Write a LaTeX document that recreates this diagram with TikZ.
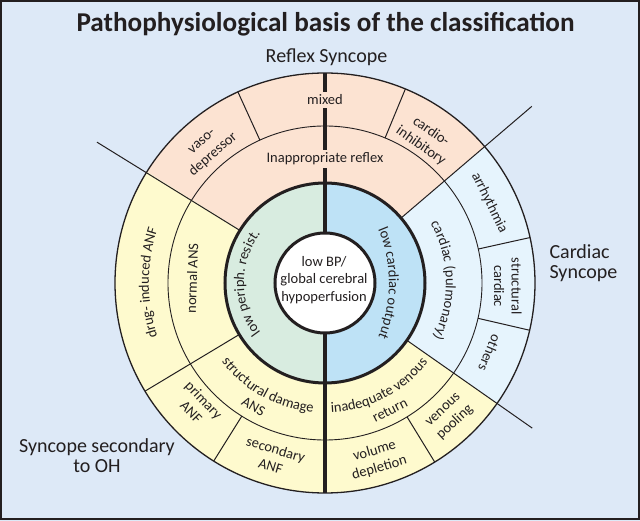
\documentclass[tikz,border=0pt]{standalone}
\usepackage{fontspec}
\setmainfont{Carlito}
\usetikzlibrary{decorations.text}

\definecolor{bgblue}{RGB}{221,233,247}
\definecolor{reflexpink}{RGB}{252,227,210}
\definecolor{ohyellow}{RGB}{254,250,206}
\definecolor{cardblue}{RGB}{230,244,253}
\definecolor{periphgreen}{RGB}{216,236,224}
\definecolor{outputblue}{RGB}{190,226,246}
\definecolor{inkdark}{RGB}{35,31,32}

\newcommand{\ringfont}{\fontsize{14.5}{17.5}\selectfont}
\newcommand{\groupfont}{\fontsize{20}{20}\selectfont}

\begin{document}
\begin{tikzpicture}[x=1pt, y=1pt,
	lbl/.style={font=\ringfont, align=center, inner sep=1pt, text=inkdark},
	grp/.style={font=\groupfont, text=inkdark},
	divider/.style={draw=inkdark, line width=1pt},
	arctext/.style={decorate, decoration={text along path, text align=center, text color=inkdark, text={|\ringfont|#1}}}]
	\coordinate (O) at (0,0);
	\useasboundingbox (-325,-238) rectangle (315,283);
	\fill [bgblue] (-325,-238) rectangle (315,283);
	\draw [inkdark, line width=1.5pt] (-324,-236) rectangle (314,282);

	% sectors
	\fill [reflexpink] (O) -- (40.5:210) arc [start angle=40.5, end angle=148, radius=210] -- cycle;
	\fill [cardblue] (O) -- (-35:210) arc [start angle=-35, end angle=40.5, radius=210] -- cycle;
	\fill [ohyellow] (O) -- (148:210) arc [start angle=148, end angle=325, radius=210] -- cycle;
	\fill [periphgreen] (90:100) arc [start angle=90, end angle=270, radius=100] -- cycle;
	\fill [outputblue] (-90:100) arc [start angle=-90, end angle=90, radius=100] -- cycle;

	\draw [inkdark, line width=1.3pt] (O) circle [radius=210];
	\draw [inkdark, line width=0.9pt] (O) circle [radius=157];
	\draw [inkdark, line width=3pt] (O) circle [radius=100];
	\foreach \a in {114.5, 67.5, 12.5, -13, -58.5, 238}
		\draw [divider] (\a:157) -- (\a:210);
	\draw [divider] (211:100) -- (211:210);
	\draw [divider] (148.3:100) -- (148.3:268);
	\draw [divider] (40.5:100) -- (40.5:272);
	\draw [divider] (-35:100) -- (-35:253);
	\draw [inkdark, line width=4pt] (90:50) -- (90:210);
	\draw [inkdark, line width=4pt] (-90:50) -- (-90:210);
	\draw [inkdark, line width=3pt, fill=white] (O) circle [radius=50];

	% headings
	\node [font=\bfseries\fontsize{27.2}{30}\selectfont, text=inkdark, anchor=base] (title) at (0.5,251.5) {Pathophysiological basis of the classification};
	\node [grp, anchor=base] (reflex) at (1.5,220) {Reflex Syncope};
	\node [grp, align=left, anchor=west] (cardiac) at (221,19.5) {Cardiac\\Syncope};
	\node [grp, align=center] (oh) at (-228,-173) {Syncope secondary\\to OH};

	% centre and inner ring
	\node [lbl] (lowbp) at (-1,3) {low BP/\\global cerebral\\hypoperfusion};
	\path [arctext={low periph. resist.}] (250:81) arc [start angle=250, end angle=110, radius=81];
	\path [arctext={low cardiac output}] (-75,0) ++(35:139) arc [start angle=35, end angle=-35, radius=139];

	% middle ring
	\node [lbl, fill=reflexpink, inner sep=3pt] (inappr) at (90:124) {Inappropriate reflex};
	\path [arctext={cardiac (pulmonary)}] (40:121) arc [start angle=40, end angle=-37, radius=121];
	\node [lbl, rotate=88] (normal) at (178:133) {normal ANS};
	\path [arctext={structural damage}] (205:130) arc [start angle=205, end angle=277, radius=130];
	\node [lbl, rotate=-30] (ans) at (240:143) {ANS};
	\path [arctext={inadequate venous}] (-100:130) arc [start angle=-100, end angle=-25, radius=130];
	\node [lbl, rotate=27] (return) at (-63:143) {return};

	% outer ring
	\node [lbl, rotate=41] (vaso) at (131:178) {vaso-\\depressor};
	\node [lbl, fill=reflexpink, inner sep=3pt] (mixed) at (90:183) {mixed};
	\node [lbl, rotate=-35] (cardio) at (55:176) {cardio-\\inhibitory};
	\node [lbl, rotate=-64] (arrhyth) at (26:183) {arrhythmia};
	\node [lbl, rotate=-90] (structcard) at (-1:183) {structural\\cardiac};
	\node [lbl, rotate=-113] (others) at (-23:179) {others};
	\node [lbl, rotate=43] (pooling) at (-47:183) {venous\\pooling};
	\node [lbl, rotate=16] (volume) at (-73.6:184) {volume\\depletion};
	\node [lbl, rotate=-16.5] (secondary) at (-106.5:182) {secondary\\ANF};
	\node [lbl, rotate=-46] (primary) at (224:177) {primary\\ANF};
	\path [arctext={drug- induced ANF}] (235:176) arc [start angle=235, end angle=125, radius=176];
\end{tikzpicture}
\end{document}
